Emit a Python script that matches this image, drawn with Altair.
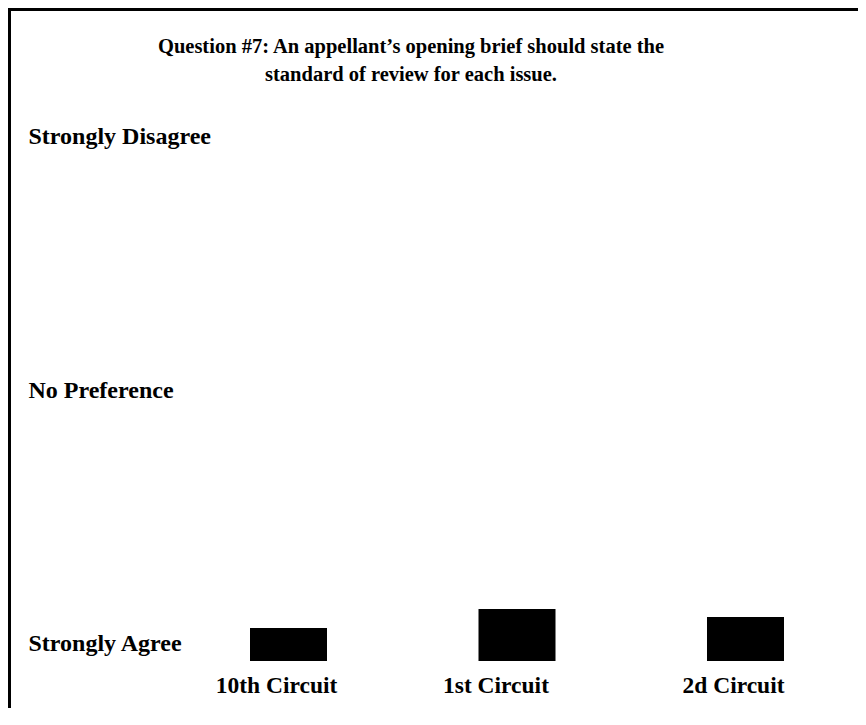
import altair as alt
import pandas as pd

title_lines = ["Question #7: An appellant\u2019s opening brief should state the",
               "standard of review for each issue."]
circuits = ["10th Circuit", "1st Circuit", "2d Circuit"]
mean_scores = [1.178, 1.327, 1.264]
bar_base = [0.917, 0.917, 0.917]
scale_values = [1, 3, 5]
scale_labels = ["Strongly Agree", "No Preference", "Strongly Disagree"]

df = pd.DataFrame({"circuit": circuits, "score": mean_scores, "base": bar_base})
one = pd.DataFrame({"a": [0]})

label_expr = " : ".join(
    f"datum.value == {v} ? '{l}'" for v, l in zip(scale_values, scale_labels)
) + " : ''"

FONT = "Liberation Serif"
W, H = 850, 700

ysc = alt.Scale(domain=[0.5464, 6.069], nice=False, zero=False)
xsc = alt.Scale(domain=circuits, range=[242, 776], paddingInner=0.663, paddingOuter=0)

x_label_offset = {"condition": {"test": "datum.value == '1st Circuit'", "value": -21}, "value": -12}

bars = alt.Chart(df).mark_bar(color="black").encode(
    x=alt.X("circuit:N", scale=xsc, sort=circuits,
            axis=alt.Axis(title=None, orient="bottom", labelAngle=0, ticks=False, tickSize=0,
                          domain=False, grid=False, labelPadding=-16, labelBaseline="alphabetic",
                          labelOffset=x_label_offset, labelFont=FONT, labelFontSize=23.5,
                          labelFontWeight="bold", labelColor="black", labelLimit=0)),
    y=alt.Y("score:Q", scale=ysc,
            axis=alt.Axis(title=None, values=scale_values, labelExpr=label_expr, ticks=False,
                          tickSize=0, domain=False, grid=False, labelPadding=-20, labelAlign="left",
                          labelBaseline="alphabetic", labelFont=FONT, labelFontSize=24,
                          labelFontWeight="bold", labelColor="black", labelLimit=0)),
    y2="base:Q",
)

top_border = alt.Chart(one).mark_rule(color="black", strokeWidth=3).encode(
    x=alt.value(0), x2=alt.value(W), y=alt.value(1.5))
left_border = alt.Chart(one).mark_rule(color="black", strokeWidth=3).encode(
    x=alt.value(1.5), y=alt.value(0), y2=alt.value(H))

title = alt.Chart(one).mark_text(
    text=title_lines, font=FONT, fontSize=20.5, fontWeight="bold", align="center",
    baseline="alphabetic", lineHeight=28, color="black"
).encode(x=alt.value(403), y=alt.value(45))

chart = alt.layer(top_border, left_border, title, bars).properties(
    width=W, height=H, padding=0, autosize=alt.AutoSizeParams(type="none"),
    background="white"
).configure_view(stroke=None)

chart.save("out.html", embed_options={"renderer": "svg", "actions": False})
